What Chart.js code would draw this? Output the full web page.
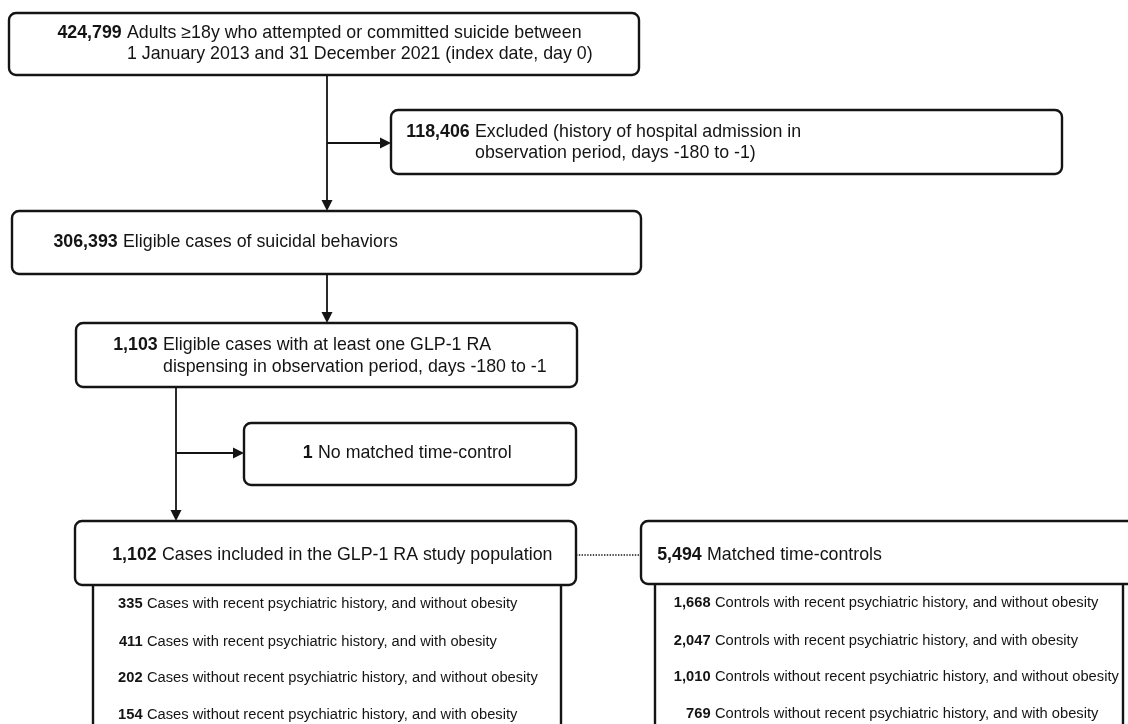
<!DOCTYPE html>
<html>
<head>
<meta charset="utf-8">
<script src="https://cdn.jsdelivr.net/npm/chart.js@4.4.1/dist/chart.umd.min.js"></script>
<style>
  html, body { margin: 0; padding: 0; background: #fff; }
  canvas { display: block; }
</style>
</head>
<body>
<canvas id="flow" width="1128" height="724"></canvas>
<script>
// counts for each step of the flow, top to bottom
const stepCounts = [424799, 118406, 306393, 1103, 1, 1102, 5494];
const stepTexts = [
    ['Adults ≥18y who attempted or committed suicide between', '1 January 2013 and 31 December 2021 (index date, day 0)'],
    ['Excluded (history of hospital admission in', 'observation period, days -180 to -1)'],
    ['Eligible cases of suicidal behaviors'],
    ['Eligible cases with at least one GLP-1 RA', 'dispensing in observation period, days -180 to -1'],
    ['No matched time-control'],
    ['Cases included in the GLP-1 RA study population'],
    ['Matched time-controls']
];

// subgroups under cases / controls
const subgroupTexts = [
    'with recent psychiatric history, and without obesity',
    'with recent psychiatric history, and with obesity',
    'without recent psychiatric history, and without obesity',
    'without recent psychiatric history, and with obesity'
];
const caseCounts = [335, 411, 202, 154];
const controlCounts = [1668, 2047, 1010, 769];

// layout in diagram units (x 0..1128, y 0..724)
const boxLayout = [
    {x0: 9,   y0: 13,  x1: 639,  y1: 75,  textX: 127, lineY: [33, 54]},
    {x0: 391, y0: 110, x1: 1062, y1: 174, textX: 475, lineY: [132, 153]},
    {x0: 12,  y0: 211, x1: 641,  y1: 274, textX: 123, lineY: [242]},
    {x0: 76,  y0: 323, x1: 577,  y1: 387, textX: 163, lineY: [345, 367]},
    {x0: 244, y0: 423, x1: 576,  y1: 485, textX: 318, lineY: [453]},
    {x0: 75,  y0: 521, x1: 576,  y1: 585, textX: 162, lineY: [555]},
    {x0: 641, y0: 521, x1: 1150, y1: 584, textX: 707, lineY: [555]}
];
const listLayout = [
    {x0: 93,  x1: 561,  top: 585, textX: 147, rowY: [604, 642, 678, 715], word: 'Cases'},
    {x0: 655, x1: 1123, top: 584, textX: 715, rowY: [603, 641, 677, 714], word: 'Controls'}
];
// connectors: [x0, y0, x1, y1, kind]
const links = [
    [327, 75, 327, 211, 'arrow'],
    [327, 143, 391, 143, 'arrow'],
    [327, 274, 327, 323, 'arrow'],
    [176, 387, 176, 521, 'arrow'],
    [176, 453, 244, 453, 'arrow'],
    [576, 555, 641, 555, 'dots']
];

const FONT = '"Liberation Sans", Arial, Helvetica, sans-serif';
const INK = '#141414';

function fmt(n) {
    return n.toLocaleString('en-US');
}

function roundBox(ctx, x0, y0, x1, y1, r) {
    ctx.beginPath();
    ctx.moveTo(x0 + r, y0);
    ctx.lineTo(x1 - r, y0);
    ctx.arcTo(x1, y0, x1, y0 + r, r);
    ctx.lineTo(x1, y1 - r);
    ctx.arcTo(x1, y1, x1 - r, y1, r);
    ctx.lineTo(x0 + r, y1);
    ctx.arcTo(x0, y1, x0, y1 - r, r);
    ctx.lineTo(x0, y0 + r);
    ctx.arcTo(x0, y0, x0 + r, y0, r);
    ctx.closePath();
}

// bold number right-aligned before the text column, plain text after it
function numberedLine(ctx, num, text, tx, ty, size) {
    ctx.textBaseline = 'middle';
    if (num !== null) {
        ctx.font = 'bold ' + size + 'px ' + FONT;
        ctx.textAlign = 'right';
        ctx.fillText(num, tx - size * 0.3, ty);
    }
    ctx.font = size + 'px ' + FONT;
    ctx.textAlign = 'left';
    ctx.fillText(text, tx, ty);
}

const flowPlugin = {
    id: 'flow',
    afterDatasetsDraw(chart) {
        const ctx = chart.ctx;
        const sx = chart.scales.x, sy = chart.scales.y;
        const px = v => sx.getPixelForValue(v);
        const py = v => sy.getPixelForValue(v);
        ctx.save();
        ctx.strokeStyle = INK;
        ctx.fillStyle = INK;

        // connectors
        links.forEach(([x0, y0, x1, y1, kind]) => {
            const a = {x: px(x0), y: py(y0)}, b = {x: px(x1), y: py(y1)};
            if (kind === 'dots') {
                ctx.save();
                ctx.lineWidth = 1.6;
                ctx.setLineDash([1.4, 1.4]);
                ctx.beginPath();
                ctx.moveTo(a.x, a.y);
                ctx.lineTo(b.x, b.y);
                ctx.stroke();
                ctx.restore();
                return;
            }
            const ang = Math.atan2(b.y - a.y, b.x - a.x);
            const head = 11, half = 5.5;
            ctx.lineWidth = 1.8;
            ctx.beginPath();
            ctx.moveTo(a.x, a.y);
            ctx.lineTo(b.x - Math.cos(ang) * head, b.y - Math.sin(ang) * head);
            ctx.stroke();
            ctx.beginPath();
            ctx.moveTo(b.x, b.y);
            ctx.lineTo(b.x - Math.cos(ang) * head - Math.sin(ang) * half, b.y - Math.sin(ang) * head + Math.cos(ang) * half);
            ctx.lineTo(b.x - Math.cos(ang) * head + Math.sin(ang) * half, b.y - Math.sin(ang) * head - Math.cos(ang) * half);
            ctx.closePath();
            ctx.fill();
        });

        // subgroup list boxes (open at the bottom)
        listLayout.forEach((L, k) => {
            const counts = k === 0 ? caseCounts : controlCounts;
            ctx.lineWidth = 2.4;
            ctx.beginPath();
            ctx.moveTo(px(L.x0), py(L.top));
            ctx.lineTo(px(L.x0), py(760));
            ctx.moveTo(px(L.x1), py(L.top));
            ctx.lineTo(px(L.x1), py(760));
            ctx.stroke();
            counts.forEach((c, i) => {
                numberedLine(ctx, fmt(c), L.word + ' ' + subgroupTexts[i], px(L.textX), py(L.rowY[i]), 14.7);
            });
        });

        // step boxes
        boxLayout.forEach((B, i) => {
            roundBox(ctx, px(B.x0), py(B.y0), px(B.x1), py(B.y1), 7);
            ctx.fillStyle = '#fff';
            ctx.fill();
            ctx.lineWidth = 2.4;
            ctx.stroke();
            ctx.fillStyle = INK;
            stepTexts[i].forEach((t, j) => {
                numberedLine(ctx, j === 0 ? fmt(stepCounts[i]) : null, t, px(B.textX), py(B.lineY[j]), 17.8);
            });
        });
        ctx.restore();
    }
};

new Chart(document.getElementById('flow'), {
    type: 'scatter',
    data: {datasets: []},
    options: {
        responsive: false,
        animation: false,
        devicePixelRatio: 1,
        layout: {padding: 0},
        plugins: {legend: {display: false}, tooltip: {enabled: false}},
        scales: {
            x: {type: 'linear', min: 0, max: 1128, display: false},
            y: {type: 'linear', min: 0, max: 724, reverse: true, display: false}
        }
    },
    plugins: [flowPlugin]
});
</script>
</body>
</html>
